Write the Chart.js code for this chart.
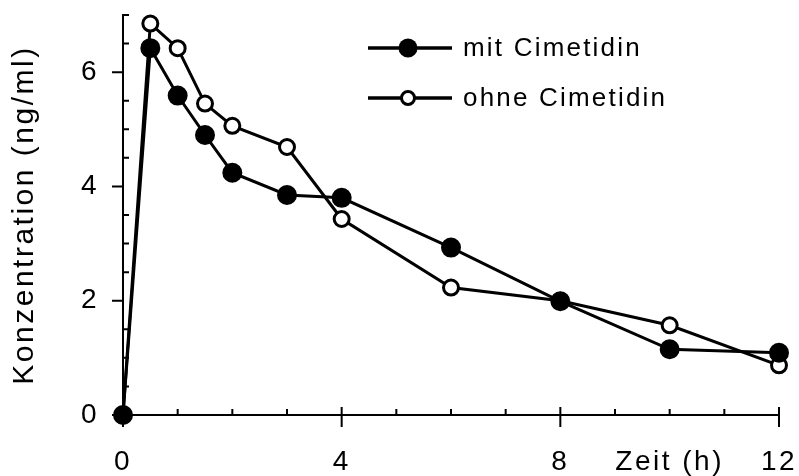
<!DOCTYPE html>
<html>
<head>
<meta charset="utf-8">
<script src="https://cdn.jsdelivr.net/npm/chart.js@4.4.1/dist/chart.umd.min.js"></script>
<style>
  html, body { margin: 0; padding: 0; background: #fff; }
  #wrap { width: 799px; height: 476px; }
</style>
</head>
<body>
<div id="wrap"><canvas id="chart" width="799" height="476"></canvas></div>
<script>
// Zeit (h) / Konzentration (ng/ml)
const times = [0, 0.5, 1, 1.5, 2, 3, 4, 6, 8, 10, 12];
const mitCimetidin = [0, 6.42, 5.59, 4.9, 4.24, 3.85, 3.8, 2.93, 1.99, 1.15, 1.09];
const ohneCimetidin = [0, 6.85, 6.42, 5.45, 5.06, 4.69, 3.43, 2.23, 2.0, 1.57, 0.87];
const seriesNames = ['mit Cimetidin', 'ohne Cimetidin'];
const xTicks = [0, 4, 8, 10, 12];
const xTickLabels = ['0', '4', '8', 'Zeit (h)', '12'];
const yTicks = [0, 2, 4, 6];
const xMinor = [1, 2, 3, 5, 6, 7, 9, 10, 11];
const yMinor = [0.5, 1, 1.5, 2.5, 3, 3.5, 4.5, 5, 5.5, 6.5, 7];

const FONT = 'Liberation Sans, Arial, sans-serif';

// hand drawn style ticks: small inside minors, long majors
const axisTicks = {
  id: 'axisTicks',
  beforeDraw(chart) {
    chart.ctx.letterSpacing = '2.5px';
  },
  afterDraw(chart) {
    const ctx = chart.ctx;
    const x = chart.scales.x, y = chart.scales.y;
    const y0 = y.getPixelForValue(0);
    const x0 = x.getPixelForValue(0);
    ctx.save();
    ctx.strokeStyle = '#000';
    ctx.lineWidth = 2;
    ctx.beginPath();
    [0, 4, 8, 12].forEach(v => {
      const px = x.getPixelForValue(v);
      ctx.moveTo(px, y0 - 8); ctx.lineTo(px, y0 + 12);
    });
    xMinor.forEach(v => {
      const px = x.getPixelForValue(v);
      ctx.moveTo(px, y0); ctx.lineTo(px, y0 - 6);
    });
    yTicks.forEach(v => {
      const py = y.getPixelForValue(v);
      ctx.moveTo(x0 - 11, py); ctx.lineTo(x0, py);
    });
    yMinor.forEach(v => {
      const py = y.getPixelForValue(v);
      ctx.moveTo(x0, py); ctx.lineTo(x0 + 6, py);
    });
    ctx.stroke();

    // legend
    ctx.letterSpacing = '2.2px';
    ctx.font = '26px ' + FONT;
    ctx.fillStyle = '#000';
    ctx.textBaseline = 'alphabetic';
    const rows = [48, 98];
    chart.data.datasets.forEach((ds, i) => {
      const ly = rows[i];
      ctx.lineWidth = 3.5;
      ctx.beginPath();
      ctx.moveTo(368, ly); ctx.lineTo(452, ly);
      ctx.stroke();
      ctx.beginPath();
      if (i === 0) {
        ctx.arc(408, ly, 9.5, 0, Math.PI * 2);
        ctx.fillStyle = ds.backgroundColor;
        ctx.fill();
      } else {
        ctx.arc(408, ly, 6.5, 0, Math.PI * 2);
        ctx.fillStyle = ds.backgroundColor;
        ctx.fill();
        ctx.lineWidth = 3;
        ctx.stroke();
      }
      ctx.fillStyle = '#000';
      ctx.fillText(ds.label, 463, ly + 8);
    });
    ctx.restore();
  }
};

new Chart(document.getElementById('chart'), {
  type: 'line',
  data: {
    datasets: [
      {
        label: seriesNames[0],
        data: times.map((t, i) => ({ x: t, y: mitCimetidin[i] })),
        borderColor: '#000',
        backgroundColor: '#000',
        borderWidth: 3,
        pointRadius: 9,
        pointBorderWidth: 2,
        pointBorderColor: '#000',
        pointBackgroundColor: '#000',
        tension: 0,
        clip: false
      },
      {
        label: seriesNames[1],
        data: times.map((t, i) => ({ x: t, y: ohneCimetidin[i] })),
        borderColor: '#000',
        backgroundColor: '#fff',
        borderWidth: 3,
        pointRadius: 7.5,
        pointBorderWidth: 3,
        pointBorderColor: '#000',
        pointBackgroundColor: '#fff',
        tension: 0,
        clip: false
      }
    ]
  },
  options: {
    responsive: false,
    animation: false,
    layout: { padding: { top: 15, right: 20, left: 0, bottom: 0 } },
    plugins: { legend: { display: false }, title: { display: false }, tooltip: { enabled: false } },
    scales: {
      x: {
        type: 'linear',
        min: 0, max: 12,
        afterFit(scale) {
          scale.height = 61;
          scale.paddingLeft = 0; scale.paddingRight = 0;
        },
        afterBuildTicks(scale) { scale.ticks = xTicks.map(v => ({ value: v })); },
        ticks: {
          autoSkip: false,
          maxRotation: 0,
          padding: 30,
          color: '#000',
          font: { family: FONT, size: 28 },
          callback: (v) => xTickLabels[xTicks.indexOf(v)]
        },
        grid: { display: true, drawOnChartArea: false, drawTicks: false },
        border: { display: true, color: '#000', width: 2 }
      },
      y: {
        type: 'linear',
        min: 0, max: 7,
        afterFit(scale) {
          scale.width = 123;
          scale.paddingTop = 0; scale.paddingBottom = 0;
        },
        afterBuildTicks(scale) { scale.ticks = yTicks.map(v => ({ value: v })); },
        ticks: {
          padding: 24,
          color: '#000',
          font: { family: FONT, size: 28 }
        },
        grid: { display: true, drawOnChartArea: false, drawTicks: false },
        border: { display: true, color: '#000', width: 2 },
        title: {
          display: true,
          text: 'Konzentration (ng/ml)',
          color: '#000',
          font: { family: FONT, size: 30 },
          padding: { top: 7, bottom: 0 }
        }
      }
    }
  },
  plugins: [axisTicks]
});
</script>
</body>
</html>
